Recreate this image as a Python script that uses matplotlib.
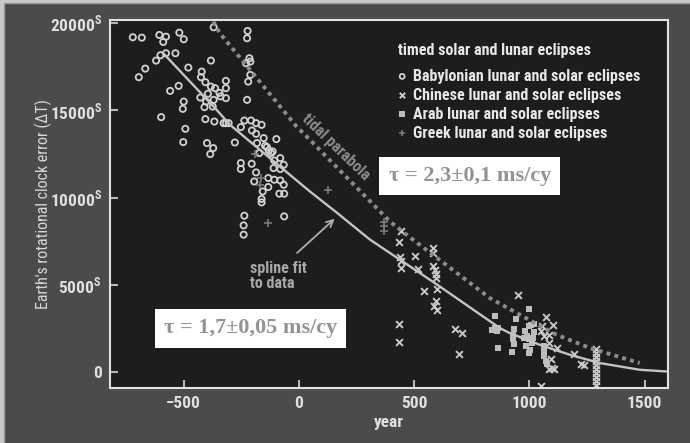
import matplotlib
matplotlib.use("Agg")
import matplotlib.pyplot as plt
from matplotlib import font_manager
from matplotlib.patches import Rectangle

# condensed face if available, otherwise plain Liberation Sans at a smaller size
installed = {f.name for f in font_manager.fontManager.ttflist}
if 'Roboto Condensed' in installed:
    sans, shrink = 'Roboto Condensed', 1.0
else:
    sans, shrink = 'Liberation Sans', 0.85
plt.rcParams['font.family'] = [sans, 'DejaVu Sans']
plt.rcParams['mathtext.fontset'] = 'custom'
plt.rcParams['mathtext.rm'] = sans + ':bold'

# eclipse timings (year, delta T in seconds)
babylonian_year = [-721, -682, -606, -577, -589, -519, -500, -577, -601, -620, -536, -667, -695, -480,
                   -382, -422, -425, -406, -522, -559, -382, -364, -428, -500, -504, -598, -403, -410,
                   -406, -367, -374, -395, -370, -370, -223, -225, -215, -211, -230, -211, -220, -317,
                   -317, -317, -225, -317, -237, -208, -186, -162, -252, -345, -340, -327, -305, -493,
                   -502, -399, -372, -385, -278, -204, -186, -153, -182, -147, -139, -131, -121, -114,
                   -98, -172, -252, -252, -205, -186, -81, -107, -66, -110, -81, -194, -133, -107,
                   -81, -66, -133, -157, -162, -162, -85, -64, -237, -240, -240, -64]
babylonian_dt = [19183, 19160, 19314, 19217, 18914, 19446, 19069, 18267, 18154, 17846, 18267, 17389, 16897, 17446,
                 17846, 17217, 16897, 16611, 16400, 16114, 16360, 16269, 15731, 15503, 15086, 14611, 15503, 15183,
                 14497, 14360, 15217, 15950, 15600, 19754, 19543, 19126, 17982, 17789, 17697, 17029, 16646, 16686,
                 16269, 15697, 15600, 14267, 14417, 14417, 14267, 14171, 14040, 16000, 15800, 14267, 14267, 13943,
                 13183, 13126, 12840, 12497, 13160, 13846, 13657, 13411, 13126, 12971, 12897, 12703, 12554, 12646,
                 13354, 12554, 11983, 11640, 11943, 11446, 12268, 12131, 11886, 11697, 11640, 10931, 11126, 11029,
                 10989, 10743, 10611, 10360, 9926, 9731, 10229, 10229, 8971, 8417, 7886, 8931]

chinese_year = [445, 435, 440, 442, 445, 504, 515, 580, 580, 584, 590, 594, 597, 541, 599, 594, 587, 599,
                435, 435, 677, 710, 695, 949, 1071, 1105, 1057, 1050, 1086, 1064, 1122, 1093, 1100, 1086,
                1107, 1194, 1223, 1237, 1052, 1086,
                1288, 1288, 1288, 1288, 1288, 1288, 1288, 1288, 1288, 1288]
chinese_dt = [8114, 7446, 6611, 6360, 5983, 6686, 5926, 7126, 6840, 6114, 5886, 5657, 5411, 4646, 4783, 4074, 3829, 3560,
              2800, 1754, 2497, 2268, 1029, 4457, 3160, 2703, 2646, 2360, 2171, 2114, 1411, 743, 269, 171,
              171, 1029, 457, 400, -760, 1657,
              1314, 1090, 870, 650, 420, 190, -40, -270, -500, -730]

arab_year = [851, 999, 941, 840, 852, 866, 859, 862, 927, 934, 931, 931, 934, 999, 1006, 990, 1000, 1010,
             985, 1005, 1015, 975, 1000, 1064, 1064, 1064, 1071, 1075, 1020, 1020, 980]
arab_dt = [3217, 3657, 3066, 2457, 2554, 2520, 2400, 1411, 1160, 2497, 2171, 1886, 1600, 2646, 2743, 2100, 1900, 1700,
           1500, 1300, 2000, 1950, 1100, 1503, 1217, 931, 646, 457, 2300, 2800, 2400]

greek_year = [-191, -165, -168, -133, 125, 370, 370, 370]
greek_dt = [12514, 11126, 10743, 8554, 10457, 8629, 8400, 8114]

# fitted curves
spline_year = [-589, -357, -299, 48, 164, 308, 590, 872, 915, 1045, 1176, 1306, 1479, 1595]
spline_dt = [18270, 15026, 14168, 10353, 9150, 7606, 5114, 2540, 2254, 1584, 1012, 538, 154, 57]

tidal_year = [-372, -343, -10, 48, 395, 496, 829, 973, 1118, 1263, 1479]
tidal_dt = [20077, 19414, 14071, 13310, 8637, 7590, 4256, 3203, 2156, 1396, 538]

yticks = [0, 5000, 10000, 15000, 20000]
ytick_labels = ['0', r'5000$^{\mathrm{S}}$', r'10000$^{\mathrm{S}}$', r'15000$^{\mathrm{S}}$', r'20000$^{\mathrm{S}}$']
xticks = [-500, 0, 500, 1000, 1500]
xtick_labels = ['\u2212500', '0', '500', '1000', '1500']

fs_tick = 12.5 * shrink
fs_leg = 11.5 * shrink
fs_note = 11.5 * shrink

fig = plt.figure(figsize=(6.9, 4.43), dpi=100)
fig.patch.set_facecolor('#c8c8c8')
fig.add_artist(Rectangle((4 / 690, -0.01), 1.0, 1.01 - 3 / 443, transform=fig.transFigure,
                         facecolor='#4b4b4d', edgecolor='#9a9a9a', lw=1.0, zorder=-10))

ax = fig.add_axes([110 / 690, 55 / 443, 558 / 690, 368 / 443])
ax.set_facecolor('#1e1c1d')
for s in ax.spines.values():
    s.set_color('#e2e2e2')
    s.set_linewidth(1.5)

ax.scatter(babylonian_year, babylonian_dt, marker='o', s=20, facecolors='none', edgecolors='#d2d2d2',
           linewidths=1.3, zorder=2, label='Babylonian lunar and solar eclipses')
ax.scatter(chinese_year, chinese_dt, marker='x', s=24, color='#c8c8c8', linewidths=1.4, zorder=2,
           label='Chinese lunar and solar eclipses')
ax.scatter(arab_year, arab_dt, marker='s', s=24, color='#bdbdbd', linewidths=0, zorder=2,
           label='Arab lunar and solar eclipses')
ax.scatter(greek_year, greek_dt, marker='+', s=30, color='#7a7a7a', linewidths=1.2, zorder=2,
           label='Greek lunar and solar eclipses')

ax.plot(spline_year, spline_dt, color='#c4c4c4', lw=1.7, zorder=3, solid_capstyle='round')
ax.plot(tidal_year, tidal_dt, color='#8c8c8c', lw=2.8, linestyle=(0, (1, 1.1)),
        dash_capstyle='butt', zorder=3)

ax.set_xlim(-820, 1602)
ax.set_ylim(-890, 20170)
ax.set_xticks(xticks)
ax.set_xticklabels(xtick_labels)
ax.set_yticks(yticks)
ax.set_yticklabels(ytick_labels)
ax.tick_params(direction='in', length=6, width=1.5, color='#b8b8b8', labelcolor='#e0e0e0',
               labelsize=fs_tick, pad=6)
for lab in ax.get_xticklabels() + ax.get_yticklabels():
    lab.set_fontweight('bold')

ax.set_xlabel('year', color='#e0e0e0', fontsize=fs_tick, fontweight='bold')
ax.xaxis.set_label_coords(0.5, -27 / 368)
ax.set_ylabel("Earth's rotational clock error (\u0394T)", color='#d8d8d8', fontsize=fs_note)
ax.yaxis.set_label_coords(-58 / 558, 0.5)

ax.text(160, 12900, 'tidal parabola', rotation=-44, color='#8a8a8a', fontsize=fs_note,
        ha='center', va='center', rotation_mode='anchor', fontweight='bold')
ax.text(-213, 6350, 'spline fit\nto data', color='#a8a8a8', fontsize=fs_note, fontweight='bold',
        ha='left', va='top', linespacing=1.0)
ax.annotate('', xy=(164, 8900), xytext=(-17, 6732),
            arrowprops=dict(arrowstyle='->', color='#b0b0b0', lw=1.3, mutation_scale=12))

serif = ['Liberation Serif', 'DejaVu Serif']
box = dict(boxstyle='square,pad=0.42', facecolor='white', edgecolor='none')
ax.text(742, 11251, '\u03c4 = 2,3\u00b10,1 ms/cy', fontsize=16, fontweight='bold', color='#939393',
        family=serif, ha='center', va='center', bbox=box, zorder=5)
ax.text(-210, 2528, '\u03c4 = 1,7\u00b10,05 ms/cy', fontsize=16, fontweight='bold', color='#939393',
        family=serif, ha='center', va='center', bbox=box, zorder=5)

leg = ax.legend(loc='upper left', bbox_to_anchor=(387 / 690, 1 - 32 / 443), bbox_transform=fig.transFigure,
                title='timed solar and lunar eclipses', frameon=False, fontsize=fs_leg,
                title_fontsize=fs_leg, labelcolor='#e8e8e8', handletextpad=0.45, handlelength=0.5,
                labelspacing=0.25, borderpad=0.2, alignment='left', markerscale=0.8)
leg.get_title().set_color('#e8e8e8')
leg.get_title().set_fontweight('bold')
# wider gap between the title and the first entry
leg._legend_box.sep = 7.5
for t in leg.get_texts():
    t.set_fontweight('bold')

fig.savefig('out.png', dpi=100, facecolor=fig.get_facecolor())
